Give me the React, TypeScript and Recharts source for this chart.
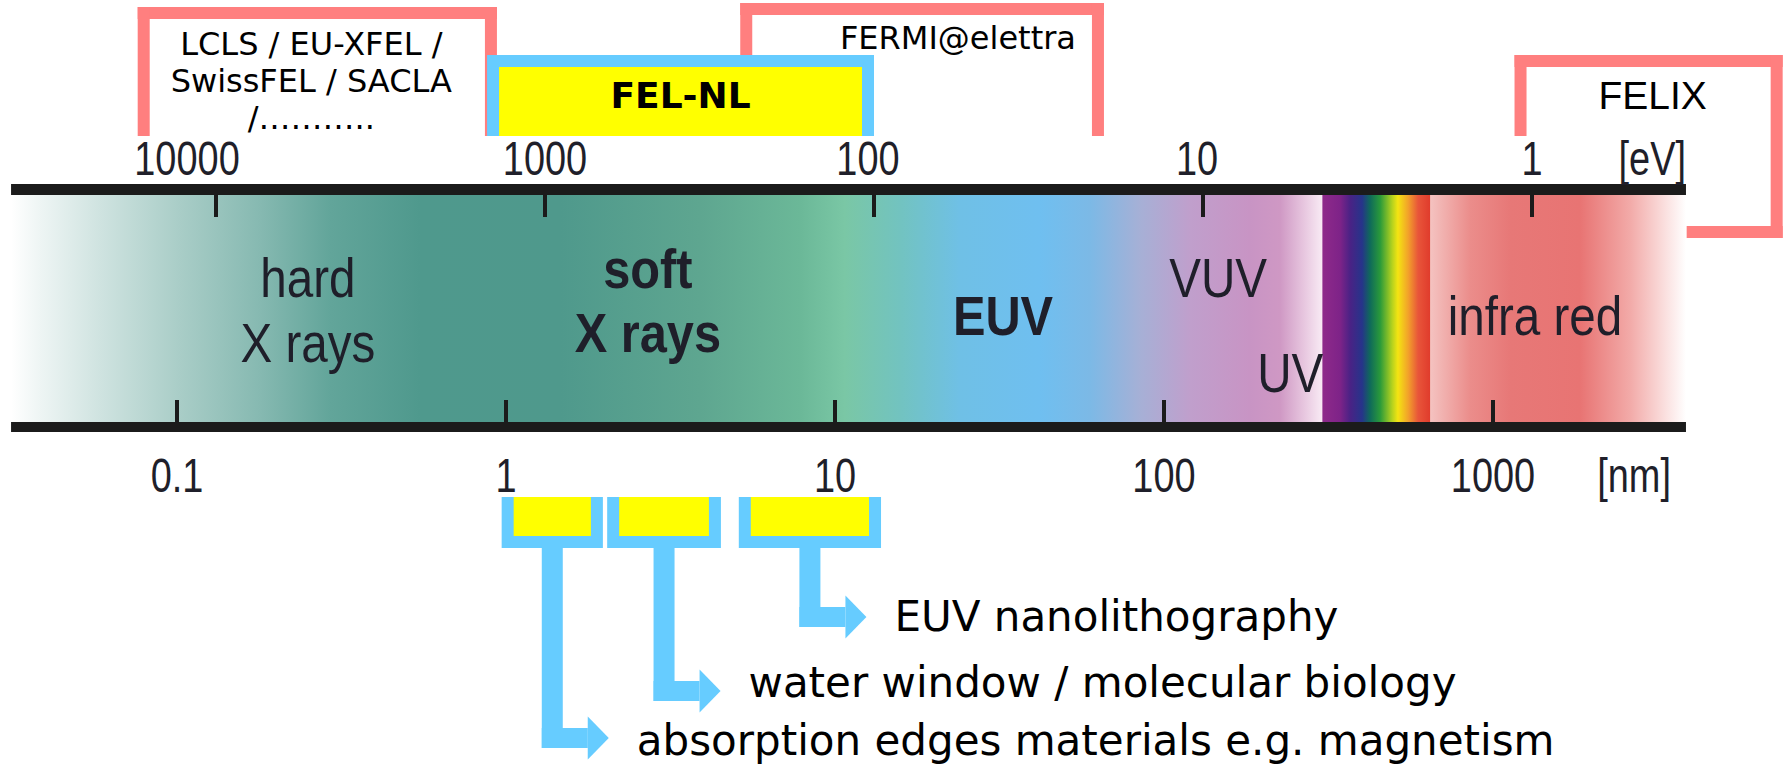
import { ComposedChart, XAxis, YAxis, ReferenceArea, ReferenceLine, ReferenceDot } from 'recharts';

const W = 1783;
const H = 764;

// ---- data ----------------------------------------------------------------
// wavelength ticks (bottom scale) and photon energy ticks (top scale)
const nmTicks = [0.1, 1, 10, 100, 1000];
const evTicks = [10000, 1000, 100, 10, 1];

// extent of the coloured spectrum band, nm
const bandNm = [0.0313, 3860];

// colour of the band along the wavelength axis
const stopNm = [
  0.0313, 0.0383, 0.0583, 0.102, 0.179, 0.292, 0.548, 1.46, 3.89, 7.83, 10.7, 15.8, 24, 42, 59.6,
  84.5, 120, 182, 225, 268, 302, 304, 343, 368, 400, 423, 454, 494, 514, 552, 592, 643, 646, 851,
  1127, 1838, 2607, 3860,
];
const stopColor = [
  '#ffffff', '#eef5f4', '#cfe3e0', '#a9cdc7', '#86b9b1', '#62a59a', '#4f998d', '#4f998c', '#5ea690',
  '#6bb898', '#7ac7a5', '#72c3c0', '#6fc0e6', '#6fbff0', '#7cb9e6', '#a6b0d6', '#c09fcc', '#c894c4',
  '#cf98c4', '#e8c8e0', '#f8eaf4', '#8e2a8a', '#7e2388', '#4a2285', '#26348a', '#0f6a5a', '#2a9a3a',
  '#b5d21e', '#f4e412', '#f2a22a', '#e8553a', '#e03c2c', '#f4c2c0', '#eb8d8b', '#e77877', '#e87473',
  '#f2aaa8', '#ffffff',
];

// spectral regions written on the band
const regionText = [['hard', 'X rays'], ['soft', 'X rays'], ['EUV'], ['VUV'], ['UV'], ['infra red']];
const regionNm = [0.25, 2.7, 32.4, 146, 242, 1342];

// light sources, photon energy ranges in eV
const lclsEv = [1400, 17300];
const lclsText = ['LCLS / EU-XFEL /', 'SwissFEL / SACLA', '/………..'];
const fermiEv = [20, 255];
const felixEv = [0.173, 1.13];
const felNlEv = [100, 1500];

// applications, wavelength ranges in nm
const appNames = [
  'absorption edges materials e.g. magnetism',
  'water window / molecular biology',
  'EUV nanolithography',
];
const appNm = [
  [0.97, 1.97],
  [2.03, 4.5],
  [5.1, 13.8],
];

// ---- layout ----------------------------------------------------------------
const PINK = '#ff7f7f';
const BLUE = '#66ccff';
const YELLOW = '#ffff00';
const INK = '#1f1f2a';
const LINE = '#1b1b1b';
const T = 12;
const NARROW = "'Liberation Sans', Arial, sans-serif";
const WIDE = "'DejaVu Sans', Verdana, sans-serif";

const evLabelDx = [-29, 0, -6, -6, 0];
const regionBase = [[297, 362], [288, 352], [335], [297], [392], [335]];
const regionBold = [false, true, true, false, false, false];
const appArrowY = [738, 691, 617];
const appBase = [755, 697, 631];

const lo = Math.log10(bandNm[0]);
const hi = Math.log10(bandNm[1]);
const rows = nmTicks.map((nm, i) => ({ nm, ev: evTicks[i] }));

function Narrow({ x, y, text, size = 48, sx = 0.79, bold = false, anchor = 'middle' }: any) {
  return (
    <text
      transform={`translate(${x},${y}) scale(${sx},1)`}
      textAnchor={anchor}
      fontFamily={NARROW}
      fontSize={size}
      fontWeight={bold ? 700 : 400}
      fill={INK}
    >
      {text}
    </text>
  );
}

export default function App() {
  return (
    <div style={{ position: 'absolute', left: 0, top: 0, width: W, height: H, background: '#fff' }}>
      <ComposedChart width={W} height={H} data={rows} margin={{ top: 0, right: 0, bottom: 0, left: 0 }}>
        <defs>
          <linearGradient id="band" x1="0" y1="0" x2="1" y2="0">
            {stopNm.map((nm, i) => (
              <stop key={i} offset={(Math.log10(nm) - lo) / (hi - lo)} stopColor={stopColor[i]} />
            ))}
          </linearGradient>
        </defs>
        <XAxis xAxisId="nm" dataKey="nm" type="number" scale="log" domain={[0.02897, 7612]} allowDataOverflow hide />
        <XAxis xAxisId="ev" dataKey="ev" type="number" scale="log" domain={[0.1726, 45350]} reversed allowDataOverflow hide />
        <YAxis type="number" domain={[0, H]} reversed allowDataOverflow hide />

        {/* LCLS bracket */}
        <ReferenceArea
          xAxisId="ev" x1={lclsEv[0]} x2={lclsEv[1]} y1={7} y2={136} ifOverflow="visible"
          shape={(p: any) => (
            <g>
              <rect x={p.x} y={p.y} width={p.width} height={T} fill={PINK} />
              <rect x={p.x} y={p.y} width={T} height={p.height} fill={PINK} />
              <rect x={p.x + p.width - T} y={p.y} width={T} height={p.height} fill={PINK} />
              {lclsText.map((t, i) => (
                <text key={i} x={p.x + p.width / 2 - 6} y={55 + i * 37} textAnchor="middle" fontFamily={WIDE} fontSize={32} fill="#000">
                  {t}
                </text>
              ))}
            </g>
          )}
        />
        {/* FERMI bracket */}
        <ReferenceArea
          xAxisId="ev" x1={fermiEv[0]} x2={fermiEv[1]} y1={3} y2={136} ifOverflow="visible"
          shape={(p: any) => (
            <g>
              <rect x={p.x} y={p.y} width={p.width} height={T} fill={PINK} />
              <rect x={p.x} y={p.y} width={T} height={p.height} fill={PINK} />
              <rect x={p.x + p.width - T} y={p.y} width={T} height={p.height} fill={PINK} />
              <text x={p.x + p.width - 28} y={49} textAnchor="end" fontFamily={WIDE} fontSize={32} fill="#000">
                FERMI@elettra
              </text>
            </g>
          )}
        />
        {/* FEL-NL box */}
        <ReferenceArea
          xAxisId="ev" x1={felNlEv[0]} x2={felNlEv[1]} y1={55} y2={136} ifOverflow="visible"
          shape={(p: any) => (
            <g>
              <rect x={p.x} y={p.y} width={p.width} height={p.height} fill={BLUE} />
              <rect x={p.x + T} y={p.y + T} width={p.width - 2 * T} height={p.height - T} fill={YELLOW} />
              <text x={p.x + p.width / 2} y={108} textAnchor="middle" fontFamily={WIDE} fontWeight={700} fontSize={36} fill="#000">
                FEL-NL
              </text>
            </g>
          )}
        />
        {/* FELIX bracket */}
        <ReferenceArea
          xAxisId="ev" x1={felixEv[0]} x2={felixEv[1]} y1={55} y2={238} ifOverflow="visible"
          shape={(p: any) => (
            <g>
              <rect x={p.x} y={p.y} width={p.width} height={T} fill={PINK} />
              <rect x={p.x} y={p.y} width={T} height={136 - p.y} fill={PINK} />
              <rect x={p.x + p.width - T} y={p.y} width={T} height={p.height} fill={PINK} />
              <rect x={p.x + p.width - 96} y={p.y + p.height - T} width={96} height={T} fill={PINK} />
              <text x={p.x + p.width / 2 + 4} y={109} textAnchor="middle" fontFamily={NARROW} fontSize={39} fill="#000">
                FELIX
              </text>
            </g>
          )}
        />

        {/* spectrum band and its two black rails */}
        <ReferenceArea xAxisId="nm" x1={bandNm[0]} x2={bandNm[1]} y1={195} y2={422} fill="url(#band)" fillOpacity={1} ifOverflow="visible" />
        <ReferenceArea xAxisId="nm" x1={bandNm[0]} x2={bandNm[1]} y1={184} y2={195} fill={LINE} fillOpacity={1} ifOverflow="visible" />
        <ReferenceArea xAxisId="nm" x1={bandNm[0]} x2={bandNm[1]} y1={422} y2={432} fill={LINE} fillOpacity={1} ifOverflow="visible" />

        {evTicks.map((v) => (
          <ReferenceLine key={'et' + v} xAxisId="ev" segment={[{ x: v, y: 195 }, { x: v, y: 217 }]} stroke={LINE} strokeWidth={4} ifOverflow="visible" />
        ))}
        {nmTicks.map((v) => (
          <ReferenceLine key={'nt' + v} xAxisId="nm" segment={[{ x: v, y: 400 }, { x: v, y: 422 }]} stroke={LINE} strokeWidth={4} ifOverflow="visible" />
        ))}

        {evTicks.map((v, i) => (
          <ReferenceDot
            key={'el' + v} xAxisId="ev" x={v} y={175} ifOverflow="visible"
            shape={(p: any) => <Narrow x={p.cx + evLabelDx[i]} y={p.cy} text={String(v)} />}
          />
        ))}
        <ReferenceDot
          xAxisId="nm" x={bandNm[1]} y={175} ifOverflow="visible"
          shape={(p: any) => <Narrow x={p.cx} y={p.cy} text="[eV]" anchor="end" />}
        />
        {nmTicks.map((v) => (
          <ReferenceDot
            key={'nl' + v} xAxisId="nm" x={v} y={492} ifOverflow="visible"
            shape={(p: any) => <Narrow x={p.cx} y={p.cy} text={String(v)} />}
          />
        ))}
        <ReferenceDot
          xAxisId="nm" x={bandNm[1]} y={492} ifOverflow="visible"
          shape={(p: any) => <Narrow x={p.cx - 15} y={p.cy} text="[nm]" anchor="end" />}
        />

        {regionText.map((lines, i) => (
          <ReferenceDot
            key={'rg' + i} xAxisId="nm" x={regionNm[i]} y={regionBase[i][0]} ifOverflow="visible"
            shape={(p: any) => (
              <g>
                {lines.map((t, j) => (
                  <Narrow key={j} x={p.cx} y={regionBase[i][j]} text={t} size={56} sx={regionBold[i] ? 0.87 : 0.85} bold={regionBold[i]} />
                ))}
              </g>
            )}
          />
        ))}

        {/* application windows with arrows */}
        {appNm.map((r, i) => (
          <ReferenceArea
            key={'ap' + i} xAxisId="nm" x1={r[0]} x2={r[1]} y1={497} y2={548} ifOverflow="visible"
            shape={(p: any) => {
              const cx = p.x + p.width / 2;
              const ay = appArrowY[i];
              const base = cx + 35.5;
              const tip = cx + 56.5;
              return (
                <g>
                  <rect x={p.x} y={p.y} width={p.width} height={p.height} fill={BLUE} />
                  <rect x={p.x + T} y={p.y} width={p.width - 2 * T} height={p.height - T} fill={YELLOW} />
                  <rect x={cx - 10.5} y={p.y + p.height - T} width={21} height={ay + 10 - (p.y + p.height - T)} fill={BLUE} />
                  <rect x={cx - 10.5} y={ay - 10} width={base - cx + 10.5} height={20} fill={BLUE} />
                  <polygon points={`${base},${ay - 21.5} ${tip},${ay} ${base},${ay + 21.5}`} fill={BLUE} />
                  <text x={tip + 28} y={appBase[i]} fontFamily={WIDE} fontSize={42} fill="#000">
                    {appNames[i]}
                  </text>
                </g>
              );
            }}
          />
        ))}
      </ComposedChart>
    </div>
  );
}
